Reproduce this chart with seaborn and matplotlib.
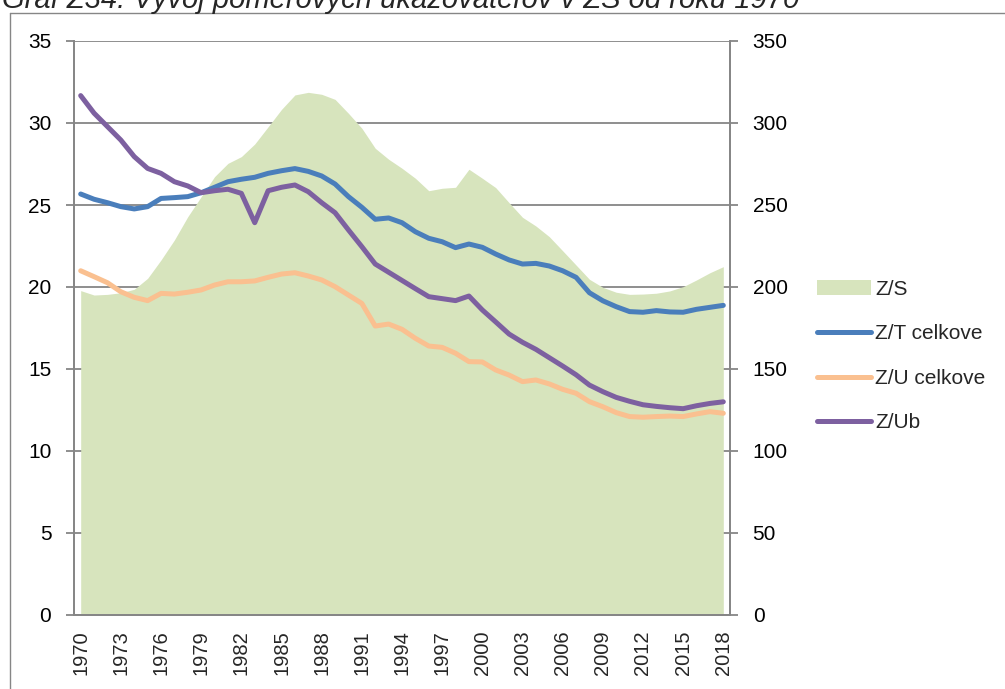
import matplotlib
matplotlib.use("Agg")
import matplotlib.pyplot as plt
from matplotlib.lines import Line2D
from matplotlib.patches import Patch
import numpy as np
import pandas as pd
import seaborn as sns

years = list(range(1970, 2019))

z_s = [197.8, 195.1, 195.5, 196.5, 198.6, 205.3, 216.5, 228.7, 242.9, 255.1,
       267.3, 275.4, 279.5, 287.2, 297.7, 308.3, 317.1, 318.7, 317.5, 314.4,
       305.9, 296.8, 284.6, 277.9, 272.4, 266.3, 258.7, 260.2, 260.8, 271.8,
       266.3, 260.6, 251.4, 242.5, 237.2, 230.7, 222.1, 213.4, 204.7, 199.8,
       196.8, 195.5, 195.7, 196.2, 197.6, 200.2, 204.3, 208.7, 212.4]

z_t = [25.67, 25.35, 25.14, 24.90, 24.76, 24.90, 25.40, 25.45, 25.51, 25.75,
       26.08, 26.42, 26.57, 26.69, 26.93, 27.09, 27.22, 27.05, 26.77, 26.28,
       25.51, 24.86, 24.13, 24.21, 23.92, 23.37, 22.97, 22.76, 22.40, 22.62,
       22.42, 22.01, 21.65, 21.40, 21.44, 21.28, 20.99, 20.59, 19.65, 19.16,
       18.80, 18.50, 18.46, 18.56, 18.48, 18.46, 18.64, 18.76, 18.88]

z_u = [20.99, 20.63, 20.26, 19.71, 19.37, 19.17, 19.61, 19.57, 19.68, 19.82,
       20.12, 20.32, 20.32, 20.37, 20.59, 20.79, 20.87, 20.67, 20.43, 20.02,
       19.51, 19.00, 17.62, 17.74, 17.42, 16.87, 16.40, 16.32, 15.96, 15.45,
       15.43, 14.94, 14.63, 14.23, 14.33, 14.09, 13.76, 13.52, 13.01, 12.70,
       12.34, 12.10, 12.06, 12.10, 12.13, 12.10, 12.26, 12.40, 12.30]

z_ub = [31.67, 30.60, 29.78, 28.96, 27.95, 27.23, 26.93, 26.42, 26.16, 25.75,
        25.87, 25.96, 25.71, 23.92, 25.87, 26.08, 26.22, 25.81, 25.14, 24.53,
        23.48, 22.46, 21.40, 20.90, 20.40, 19.90, 19.41, 19.29, 19.17, 19.45,
        18.60, 17.87, 17.13, 16.63, 16.20, 15.69, 15.18, 14.65, 14.02, 13.62,
        13.27, 13.03, 12.82, 12.72, 12.64, 12.58, 12.76, 12.90, 13.00]

line_names = ["Z/T celkove", "Z/U celkove", "Z/Ub"]
area_name = "Z/S"
title = "Graf Z34: Vývoj pomerových ukazovateľov v ZŠ od roku 1970"

sns.set_style("white")
plt.rcParams['font.family'] = ['Liberation Sans', 'DejaVu Sans']

GRAY = "#868686"
colors = {"Z/T celkove": "#4A7EBB", "Z/U celkove": "#FAC090", "Z/Ub": "#7D60A0"}
AREA = "#D7E4BD"

W, H = 1005, 689
fig = plt.figure(figsize=(W / 100, H / 100), dpi=100)

x0, x1, ytop, ybot = 74, 730, 41, 615
ax = fig.add_axes([x0 / W, 1 - ybot / H, (x1 - x0) / W, (ybot - ytop) / H])

idx = np.arange(len(years))
# area on secondary scale (right)
ax.fill_between(idx, 0, z_s, color=AREA, lw=0, zorder=2)
ax.set_ylim(0, 350)
ax.set_xlim(-0.5, len(years) - 0.5)
ax.set_yticks(np.arange(0, 351, 50))
ax.grid(axis='y', color=GRAY, lw=1.3, zorder=0)
ax.grid(axis='x', visible=False)
ax.set_axisbelow(True)

# lines on primary scale (left)
ax2 = ax.twinx()
df = pd.DataFrame({
    "idx": np.tile(idx, 3),
    "value": z_t + z_u + z_ub,
    "series": np.repeat(line_names, len(years)),
})
sns.lineplot(data=df, x="idx", y="value", hue="series", palette=colors,
             hue_order=line_names, ax=ax2, legend=False, lw=3.6,
             solid_capstyle='round', solid_joinstyle='round', zorder=3)
ax2.set_ylim(0, 35)
ax2.set_xlim(-0.5, len(years) - 0.5)
ax2.set_yticks(np.arange(0, 36, 5))
ax2.set_xlabel("")
ax2.set_ylabel("")
ax.set_ylabel("")

# put area scale on the right, line scale on the left
ax.yaxis.tick_right()
ax.yaxis.set_label_position('right')
ax2.yaxis.tick_left()
ax2.yaxis.set_label_position('left')

for a in (ax, ax2):
    for s in a.spines.values():
        s.set_color(GRAY)
        s.set_linewidth(1.3)
    a.spines['top'].set_visible(False)

ax2.tick_params(axis='y', which='major', length=5.8, width=1.3, color=GRAY,
                labelsize=15, pad=10.5, labelcolor='black')
ax.tick_params(axis='y', which='major', length=5.8, width=1.3, color=GRAY,
               labelsize=15, pad=10.5, labelcolor='black')

# x axis
ax.set_xticks(idx[::3])
ax.set_xticklabels([str(y) for y in years[::3]], rotation=90, fontsize=14.5)
ax.set_xticks(np.arange(-0.5, len(years), 1.0), minor=True)
ax.tick_params(axis='x', which='major', length=0, pad=11)
ax.tick_params(axis='x', which='minor', length=5.8, width=1.3, color=GRAY)
ax2.tick_params(axis='x', which='both', length=0, labelbottom=False)

# legend
handles = [Patch(facecolor=AREA, edgecolor='none', label=area_name)]
for n in line_names:
    handles.append(Line2D([], [], color=colors[n], lw=3.6, solid_capstyle='round', label=n))
fig.legend(handles=handles, loc='upper left', bbox_to_anchor=(817 / W, 1 - 280 / H),
           frameon=False, fontsize=15, handlelength=2.6, handletextpad=0.2,
           labelspacing=1.22, borderpad=0, borderaxespad=0)

# title (partially cut at top) and frame
fig.text(2 / W, 1 - 8.5 / H, title, fontsize=21, style='italic', ha='left', va='baseline')
fig.add_artist(Line2D([10 / W, 10 / W], [0, 1 - 12.7 / H], color=GRAY, lw=1.0,
                      transform=fig.transFigure))
fig.add_artist(Line2D([10 / W, 1], [1 - 12.7 / H, 1 - 12.7 / H], color=GRAY, lw=1.0,
                      transform=fig.transFigure))

fig.savefig("out.png", dpi=100)
